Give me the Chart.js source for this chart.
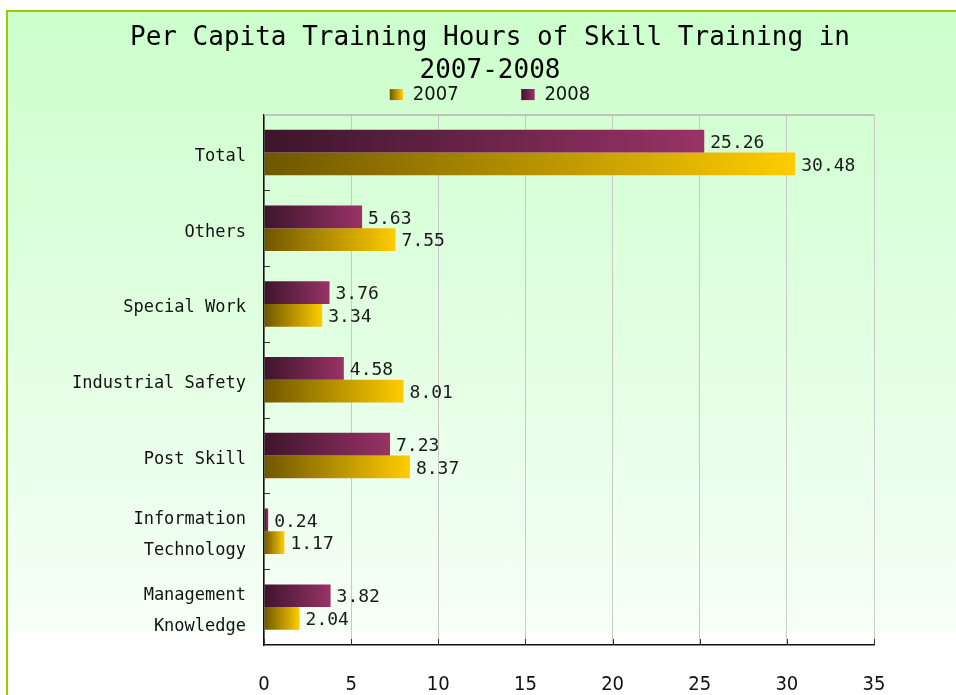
<!DOCTYPE html>
<html>
<head>
<meta charset="utf-8">
<script src="https://cdn.jsdelivr.net/npm/chart.js@4/dist/chart.umd.min.js"></script>
<style>
  html, body { margin: 0; padding: 0; overflow: hidden; background: #ffffff; width: 956px; height: 695px; }
  #frame {
    position: absolute; left: 6px; top: 10px;
    width: 964px; height: 683px;
    border-left: 2px solid #99cc00; border-top: 2px solid #99cc00;
    background: linear-gradient(to bottom, #ccffcc 0px, #f6fff6 618px, #ffffff 622px, #ffffff 100%);
  }
  canvas { display: block; }
</style>
</head>
<body>
<div id="frame"><canvas id="c" width="964" height="683"></canvas></div>
<script>
// ---- data ----
const categories = [
  "Total",
  "Others",
  "Special Work",
  "Industrial Safety",
  "Post Skill",
  ["Information", "Technology"],
  ["Management", "Knowledge"]
];
const values2008 = [25.26, 5.63, 3.76, 4.58, 7.23, 0.24, 3.82];
const values2007 = [30.48, 7.55, 3.34, 8.01, 8.37, 1.17, 2.04];
const seriesNames = ["2008", "2007"];
const xTicks = [0, 5, 10, 15, 20, 25, 30, 35];
const titleLines = ["Per Capita Training Hours of Skill Training in", "2007-2008"];

// ---- styles ----
const MONO = "'DejaVu Sans Mono', 'Liberation Mono', monospace";
const NARROW = "'Liberation Sans Narrow', 'DejaVu Sans Condensed', 'Liberation Sans', sans-serif";
const COLORS = {
  "2008": ["#3e142c", "#993366"],
  "2007": ["#6e5600", "#ffcc00"]
};

function barGrad(c0, c1) {
  return (ctx) => {
    const chart = ctx.chart;
    if (!chart.chartArea || ctx.type !== 'data' || !chart.scales.x) return c1;
    const xs = chart.scales.x;
    const x0 = xs.getPixelForValue(0);
    const x1 = xs.getPixelForValue(ctx.raw);
    if (!isFinite(x0) || !isFinite(x1) || x1 - x0 < 1) return c1;
    const g = chart.ctx.createLinearGradient(x0, 0, x1, 0);
    g.addColorStop(0, c0);
    g.addColorStop(1, c1);
    return g;
  };
}

const extrasPlugin = {
  id: 'extras',
  afterDatasetsDraw(chart) {
    const ctx = chart.ctx;
    const area = chart.chartArea;
    const xs = chart.scales.x, ys = chart.scales.y;
    ctx.save();
    // top border of plot
    ctx.strokeStyle = '#b4b4b4';
    ctx.lineWidth = 1.5;
    ctx.beginPath();
    ctx.moveTo(area.left, area.top + 0.5);
    ctx.lineTo(area.right, area.top + 0.5);
    ctx.stroke();
    // inward ticks on y axis at category boundaries
    ctx.strokeStyle = '#333333';
    ctx.lineWidth = 1;
    for (let i = 0; i < categories.length - 1; i++) {
      const y = Math.round((ys.getPixelForValue(i) + ys.getPixelForValue(i + 1)) / 2) + 0.5;
      ctx.beginPath();
      ctx.moveTo(area.left, y);
      ctx.lineTo(area.left + 6, y);
      ctx.stroke();
    }
    // inward ticks on x axis
    xTicks.forEach(v => {
      const x = Math.round(xs.getPixelForValue(v)) + 0.5;
      ctx.beginPath();
      ctx.moveTo(x, area.bottom);
      ctx.lineTo(x, area.bottom - 6);
      ctx.stroke();
    });
    // value labels
    ctx.fillStyle = '#1a1a1a';
    ctx.font = "18px " + MONO;
    ctx.textBaseline = 'middle';
    ctx.textAlign = 'left';
    chart.data.datasets.forEach((ds, di) => {
      const meta = chart.getDatasetMeta(di);
      meta.data.forEach((el, i) => {
        ctx.fillText(ds.data[i].toFixed(2), el.x + 6, el.y + 2);
      });
    });
    ctx.restore();
  },
  afterDraw(chart) {
    const lg = chart.legend;
    if (!lg || !lg.legendHitBoxes) return;
    const ctx = chart.ctx;
    const fs = lg.options.labels.font.size;
    const bw = lg.options.labels.boxWidth, bh = lg.options.labels.boxHeight;
    lg.legendItems.forEach((item, i) => {
      const hb = lg.legendHitBoxes[i];
      const name = seriesNames[item.datasetIndex];
      const c = COLORS[name];
      const y = hb.top + Math.max((fs - bh) / 2, 0);
      const g = ctx.createLinearGradient(hb.left, 0, hb.left + bw, 0);
      g.addColorStop(0, c[0]);
      g.addColorStop(1, c[1]);
      ctx.save();
      ctx.fillStyle = g;
      ctx.fillRect(hb.left, y, bw, bh);
      ctx.restore();
    });
  }
};

new Chart(document.getElementById('c'), {
  type: 'bar',
  data: {
    labels: categories,
    datasets: [
      {
        label: seriesNames[0],
        data: values2008,
        backgroundColor: barGrad(COLORS["2008"][0], COLORS["2008"][1]),
        borderWidth: 0,
        categoryPercentage: 0.6,
        barPercentage: 1.0
      },
      {
        label: seriesNames[1],
        data: values2007,
        backgroundColor: barGrad(COLORS["2007"][0], COLORS["2007"][1]),
        borderWidth: 0,
        categoryPercentage: 0.6,
        barPercentage: 1.0
      }
    ]
  },
  options: {
    indexAxis: 'y',
    responsive: false,
    animation: false,
    layout: { padding: 0 },
    scales: {
      x: {
        min: 0, max: 35,
        afterBuildTicks(scale) { scale.ticks = xTicks.map(v => ({ value: v })); },
        afterFit(scale) { scale.height = 50; },
        grid: { color: '#c8c8c8', lineWidth: 1, drawTicks: false },
        border: { color: '#111111', width: 1.5 },
        ticks: { color: '#111111', font: { family: NARROW, size: 20 }, padding: 28 }
      },
      y: {
        afterFit(scale) { scale.width = 256; },
        grid: { display: true, drawOnChartArea: false, drawTicks: false },
        border: { color: '#111111', width: 1.5 },
        ticks: { color: '#111111', font: { family: MONO, size: 17, lineHeight: 1.8 }, padding: 18, labelOffset: 4 }
      },
      yRight: {
        type: 'linear',
        position: 'right',
        display: true,
        afterFit(scale) { scale.width = 98; },
        grid: { display: false, drawOnChartArea: false, drawTicks: false },
        border: { display: false },
        ticks: { display: false }
      }
    },
    plugins: {
      title: {
        display: true,
        text: titleLines,
        color: '#000000',
        font: { family: MONO, size: 26, weight: 'normal', lineHeight: 1.3 },
        padding: { top: 9, bottom: -4 }
      },
      legend: {
        display: true,
        reverse: true,
        labels: {
          color: '#111111',
          font: { family: NARROW, size: 20 },
          boxWidth: 13,
          boxHeight: 11,
          padding: 0,
          generateLabels(chart) {
            const items = Chart.defaults.plugins.legend.labels.generateLabels(chart);
            items.forEach(it => {
              const name = seriesNames[it.datasetIndex];
              it.fillStyle = COLORS[name][1];
              it.strokeStyle = 'rgba(0,0,0,0)';
              it.lineWidth = 0;
              if (name === "2007") it.text = name + "           ";
            });
            return items;
          }
        }
      },
      tooltip: { enabled: false }
    }
  },
  plugins: [extrasPlugin]
});
</script>
</body>
</html>
